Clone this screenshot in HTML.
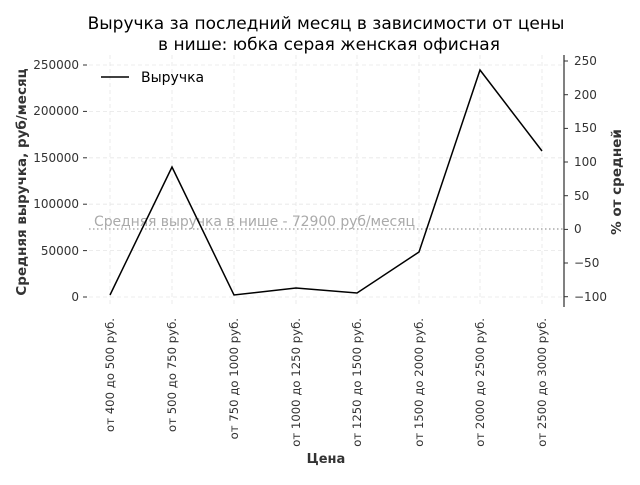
<!DOCTYPE html>
<html><head><meta charset="utf-8"><style>body{margin:0;background:#fff}</style></head><body>
<svg width="640" height="480" xmlns="http://www.w3.org/2000/svg" font-family="'DejaVu Sans', 'Liberation Sans', sans-serif">
<text x="326" y="29" text-anchor="middle" font-size="17" fill="#000">Выручка за последний месяц в зависимости от цены</text>
<text x="329" y="50" text-anchor="middle" font-size="17" fill="#000">в нише: юбка серая женская офисная</text>
<g stroke="#e6e6e6" stroke-dasharray="4,3" stroke-width="0.8">
<line x1="89" x2="564" y1="297" y2="297"/><line x1="89" x2="564" y1="250.6" y2="250.6"/><line x1="89" x2="564" y1="204.2" y2="204.2"/><line x1="89" x2="564" y1="157.8" y2="157.8"/><line x1="89" x2="564" y1="111.4" y2="111.4"/><line x1="89" x2="564" y1="65" y2="65"/>
<line x1="110" x2="110" y1="55" y2="307"/><line x1="172" x2="172" y1="55" y2="307"/><line x1="234" x2="234" y1="55" y2="307"/><line x1="296" x2="296" y1="55" y2="307"/><line x1="357" x2="357" y1="55" y2="307"/><line x1="419" x2="419" y1="55" y2="307"/><line x1="480" x2="480" y1="55" y2="307"/><line x1="542" x2="542" y1="55" y2="307"/>
</g>
<g font-size="12" fill="#333" text-anchor="end">
<text x="79" y="301">0</text><text x="79" y="255">50000</text><text x="79" y="208">100000</text><text x="79" y="162">150000</text><text x="79" y="115">200000</text><text x="79" y="69">250000</text>
</g>
<g stroke="#333"><line x1="83" x2="87" y1="297" y2="297"/><line x1="83" x2="87" y1="250.6" y2="250.6"/><line x1="83" x2="87" y1="204.2" y2="204.2"/><line x1="83" x2="87" y1="157.8" y2="157.8"/><line x1="83" x2="87" y1="111.4" y2="111.4"/><line x1="83" x2="87" y1="65" y2="65"/></g>
<line x1="564" x2="564" y1="55" y2="307" stroke="#000" stroke-width="1"/>
<g stroke="#333"><line x1="564" x2="568" y1="61" y2="61"/><line x1="564" x2="568" y1="94.7" y2="94.7"/><line x1="564" x2="568" y1="128.4" y2="128.4"/><line x1="564" x2="568" y1="162" y2="162"/><line x1="564" x2="568" y1="195.7" y2="195.7"/><line x1="564" x2="568" y1="229.4" y2="229.4"/><line x1="564" x2="568" y1="263" y2="263"/><line x1="564" x2="568" y1="296.7" y2="296.7"/></g>
<g font-size="12" fill="#333">
<text x="574" y="65">250</text><text x="574" y="99">200</text><text x="574" y="132">150</text><text x="574" y="166">100</text><text x="574" y="200">50</text><text x="574" y="233">0</text><text x="574" y="267">−50</text><text x="574" y="301">−100</text>
</g>
<line x1="89" x2="564" y1="229" y2="229" stroke="#aaa" stroke-width="1.5" stroke-dasharray="1.5,2.5"/>
<text x="94" y="226" font-size="14" fill="#aaa" textLength="321">Средняя выручка в нише - 72900 руб/месяц</text>
<polyline fill="none" stroke="#000" stroke-width="1.5" points="110,295 172,167 234,295 296,288 357,293 419,252 480,70 542,151"/>
<line x1="101" x2="129" y1="77" y2="77" stroke="#000" stroke-width="1.5"/>
<text x="141" y="82" font-size="14" fill="#000">Выручка</text>
<g font-size="11.7" fill="#333" text-anchor="end">
<text transform="translate(114,318) rotate(-90)">от 400 до 500 руб.</text>
<text transform="translate(176,318) rotate(-90)">от 500 до 750 руб.</text>
<text transform="translate(238,318) rotate(-90)">от 750 до 1000 руб.</text>
<text transform="translate(300,318) rotate(-90)">от 1000 до 1250 руб.</text>
<text transform="translate(361,318) rotate(-90)">от 1250 до 1500 руб.</text>
<text transform="translate(423,318) rotate(-90)">от 1500 до 2000 руб.</text>
<text transform="translate(484,318) rotate(-90)">от 2000 до 2500 руб.</text>
<text transform="translate(546,318) rotate(-90)">от 2500 до 3000 руб.</text>
</g>
<text x="326" y="463" text-anchor="middle" font-size="13" font-weight="bold" fill="#333">Цена</text>
<text transform="translate(26,182) rotate(-90)" text-anchor="middle" font-size="13.5" font-weight="bold" fill="#333">Средняя выручка, руб/месяц</text>
<text transform="translate(621,182) rotate(-90)" text-anchor="middle" font-size="13.5" font-weight="bold" fill="#333">% от средней</text>
</svg>
</body></html>
